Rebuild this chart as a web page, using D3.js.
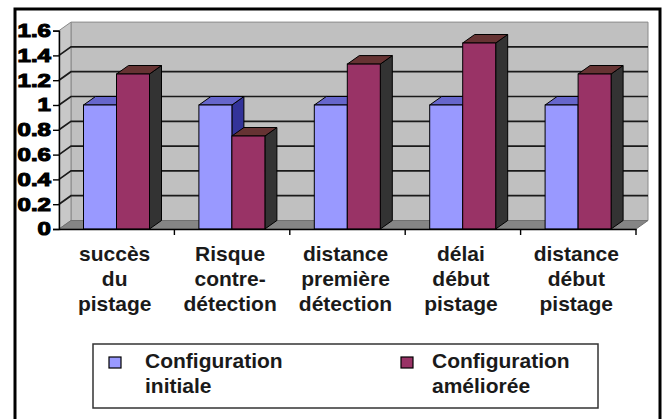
<!DOCTYPE html>
<html>
<head>
<meta charset="utf-8">
<script src="https://cdnjs.cloudflare.com/ajax/libs/d3/7.8.5/d3.min.js"></script>
<style>
  html, body { margin: 0; padding: 0; background: #fff; }
  svg { display: block; }
</style>
</head>
<body>
<script>
// ---- data ----
const categories = ["succès du pistage", "Risque contre-détection", "distance première détection", "délai début pistage", "distance début pistage"];
const categoryLines = [["succès", "du", "pistage"], ["Risque", "contre-", "détection"], ["distance", "première", "détection"], ["délai", "début", "pistage"], ["distance", "début", "pistage"]];
const seriesNames = ["Configuration initiale", "Configuration améliorée"];
const legendLines = [["Configuration", "initiale"], ["Configuration", "améliorée"]];
const initiale = [1, 1, 1, 1, 1];
const amelioree = [1.25, 0.75, 1.33, 1.5, 1.25];
const yTicks = [0, 0.2, 0.4, 0.6, 0.8, 1, 1.2, 1.4, 1.6];
const yTickLabels = ["0", "0.2", "0.4", "0.6", "0.8", "1", "1.2", "1.4", "1.6"];

// ---- layout ----
const W = 666, H = 419;
const svg = d3.select("body").append("svg").attr("width", W).attr("height", H);
svg.append("rect").attr("width", W).attr("height", H).attr("fill", "#fff");

const x0 = 59, x1 = 636;
const y = d3.scaleLinear().domain([0, 1.6]).range([229, 30.6]);
const xb = d3.scaleBand().domain(categories).range([x0, x1]);
const dx = 12, dy = -8.5;
const barW = 33, barOff = 24.5;

const colors = {
  front: ["#9999ff", "#993366"],
  top: ["#6666cc", "#663333"],
  side: ["#333399", "#333333"]
};

// outer border
svg.append("rect").attr("x", 15).attr("y", 9).attr("width", 645).attr("height", 430)
  .attr("fill", "none").attr("stroke", "#000").attr("stroke-width", 3);

const pts = a => a.map(p => p.join(",")).join(" ");
const yTop = y(1.6), yBot = y(0);

// back wall
svg.append("polygon")
  .attr("points", pts([[x0 + dx, yTop + dy], [x1 + dx, yTop + dy], [x1 + dx, yBot + dy], [x0 + dx, yBot + dy]]))
  .attr("fill", "#c0c0c0").attr("stroke", "#8a8a8a").attr("stroke-width", 1);
// left wall
svg.append("polygon")
  .attr("points", pts([[x0, yTop], [x0 + dx, yTop + dy], [x0 + dx, yBot + dy], [x0, yBot]]))
  .attr("fill", "#c8c8c8").attr("stroke", "#8a8a8a").attr("stroke-width", 1);
// floor
svg.append("polygon")
  .attr("points", pts([[x0, yBot], [x0 + dx, yBot + dy], [x1 + dx, yBot + dy], [x1, yBot]]))
  .attr("fill", "#858585").attr("stroke", "#707070").attr("stroke-width", 1);

// gridlines
const grid = svg.append("g");
yTicks.filter(t => t > 0 && t < 1.6).forEach(t => {
  grid.append("polyline")
    .attr("points", pts([[x0, y(t)], [x0 + dx, y(t) + dy], [x1 + dx, y(t) + dy]]))
    .attr("fill", "none").attr("stroke", "#1a1a1a").attr("stroke-width", 1.7);
});

// bars
const series = [initiale, amelioree];
categories.forEach((c, i) => {
  series.forEach((s, k) => {
    const v = s[i];
    const bx = xb(c) + barOff + k * barW;
    const by = y(v);
    const g = svg.append("g");
    g.append("polygon")
      .attr("points", pts([[bx + barW, by], [bx + barW + dx, by + dy], [bx + barW + dx, yBot + dy], [bx + barW, yBot]]))
      .attr("fill", colors.side[k]).attr("stroke", "#000").attr("stroke-width", 1).attr("stroke-linejoin", "round");
    g.append("polygon")
      .attr("points", pts([[bx, by], [bx + dx, by + dy], [bx + barW + dx, by + dy], [bx + barW, by]]))
      .attr("fill", colors.top[k]).attr("stroke", "#000").attr("stroke-width", 1).attr("stroke-linejoin", "round");
    g.append("rect")
      .attr("x", bx).attr("y", by).attr("width", barW).attr("height", yBot - by)
      .attr("fill", colors.front[k]).attr("stroke", "#000").attr("stroke-width", 1);
  });
});

// y axis
const yAxis = d3.axisLeft(y).tickValues(yTicks).tickSize(6)
  .tickFormat((d, i) => yTickLabels[i]).tickPadding(3);
const ga = svg.append("g").attr("transform", `translate(${x0},0)`).call(yAxis);
ga.select(".domain").attr("stroke", "#000").attr("stroke-width", 1.4);
ga.selectAll(".tick line").attr("stroke", "#000").attr("stroke-width", 1.4);
ga.selectAll(".tick text")
  .attr("x", 0)
  .attr("transform", "translate(-8,0) scale(1.3,1)")
  .attr("font-family", "'Liberation Sans', Arial, sans-serif")
  .attr("font-size", 18.5).attr("font-weight", "bold")
  .attr("fill", "#000").attr("stroke", "#000").attr("stroke-width", 1.1);

// x axis
const xAxis = d3.axisBottom(xb).tickSize(0).tickFormat("");
const gx = svg.append("g").attr("transform", `translate(0,${yBot})`).call(xAxis);
gx.select(".domain").attr("stroke", "#000").attr("stroke-width", 1.4);
const bounds = categories.map(c => xb(c)).concat([x1]);
gx.selectAll("line.cat").data(bounds.slice(1)).enter().append("line")
  .attr("class", "cat").attr("x1", d => d).attr("x2", d => d)
  .attr("y1", 0).attr("y2", 6).attr("stroke", "#000").attr("stroke-width", 1.4);

// category labels
const lab = svg.append("g")
  .attr("font-family", "'Liberation Sans', Arial, sans-serif")
  .attr("font-size", 21).attr("font-weight", "bold").attr("fill", "#1a1a1a")
  .attr("text-anchor", "middle");
categories.forEach((c, i) => {
  const cx = xb(c) + xb.bandwidth() / 2 - 2;
  categoryLines[i].forEach((line, j) => {
    lab.append("text").attr("x", cx).attr("y", 261 + j * 25).text(line);
  });
});

// legend
const lg = svg.append("g");
lg.append("rect").attr("x", 93).attr("y", 344).attr("width", 505).attr("height", 64)
  .attr("fill", "#fff").attr("stroke", "#333").attr("stroke-width", 1.5);
const legX = [[109, 145], [401, 432]];
seriesNames.forEach((n, k) => {
  lg.append("rect").attr("x", legX[k][0]).attr("y", 357).attr("width", 12).attr("height", 11)
    .attr("fill", colors.front[k]).attr("stroke", "#000").attr("stroke-width", 1.2);
  legendLines[k].forEach((line, j) => {
    lg.append("text").attr("x", legX[k][1]).attr("y", 368 + j * 25)
      .attr("font-family", "'Liberation Sans', Arial, sans-serif")
      .attr("font-size", 21).attr("font-weight", "bold").attr("fill", "#1a1a1a")
      .text(line);
  });
});
</script>
</body>
</html>
